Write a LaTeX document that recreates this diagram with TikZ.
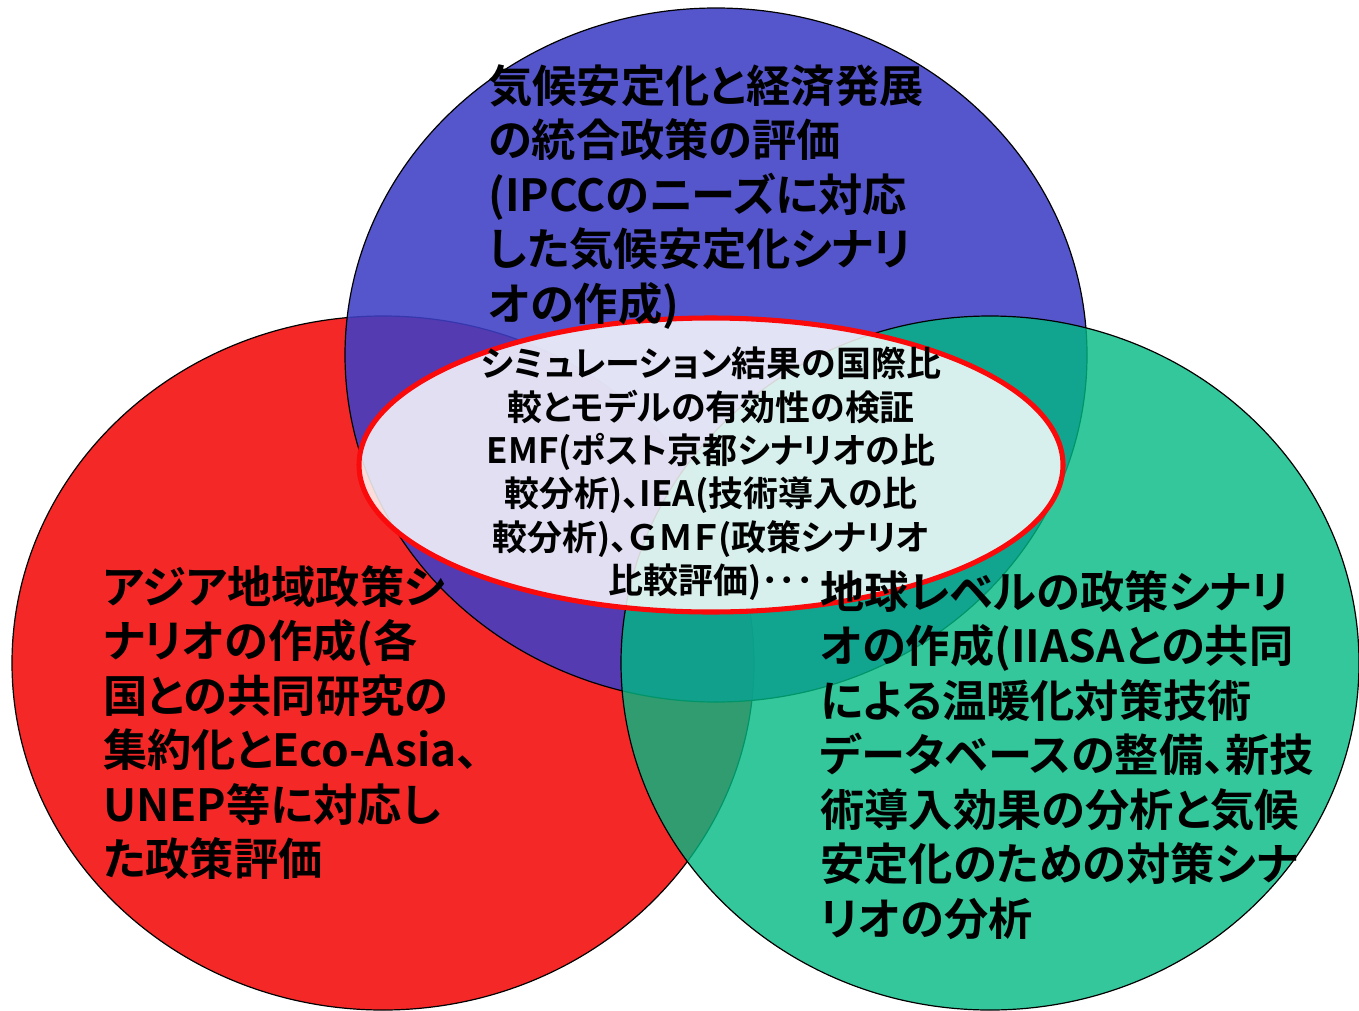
\documentclass[tikz,border=0pt]{standalone}
\usepackage{fontspec}
\setmainfont{Noto Sans CJK JP}[BoldFont={Noto Sans CJK JP Bold},RawFeature=+palt]
\definecolor{cblue}{RGB}{62,62,198}
\definecolor{cred}{RGB}{245,40,40}
\definecolor{cgreen}{RGB}{0,186,130}
\definecolor{cring}{RGB}{250,10,10}
\tikzset{
  disc/.style={draw=black,line width=0.9pt},
  bigtext/.style={inner sep=0pt,align=left,font=\bfseries\fontsize{33.2pt}{40.9pt}\selectfont},
  midtext/.style={inner sep=0pt,align=center,font=\bfseries\fontsize{26.2pt}{32.5pt}\selectfont}
}
\begin{document}
\begin{tikzpicture}[x=0.75pt,y=-0.75pt]
\useasboundingbox (0,0) rectangle (1359,1010);
\fill[white] (0,0) rectangle (1359,1010);
% discs
\draw[disc,fill=cred] (383,663) ellipse [x radius=371, y radius=347];
\draw[disc,fill=cblue,fill opacity=0.88] (716,355) ellipse [x radius=371, y radius=347];
\draw[disc,fill=cgreen,fill opacity=0.8] (990,663) ellipse [x radius=369, y radius=347];
% central ellipse
\draw[draw=cring,line width=3.8pt,fill=white,fill opacity=0.84] (711,465) ellipse [x radius=352, y radius=147];
% texts
\node[bigtext,anchor=north west] (top) at (488,64) {気候安定化と経済発展\\の統合政策の評価\\(IPCCのニーズに対応\\した気候安定化シナリ\\オの作成)};
\node[bigtext,anchor=north west] (left) at (103,565) {アジア地域政策シ\\ナリオの作成(各\\国との共同研究の\\集約化とEco-Asia、\\UNEP等に対応し\\た政策評価};
\node[bigtext,anchor=north west] (right) at (820,570) {地球レベルの政策シナリ\\オの作成(IIASAとの共同\\による温暖化対策技術\\データベースの整備、新技\\術導入効果の分析と気候\\安定化のための対策シナ\\リオの分析};
\node[midtext,anchor=north] (mid) at (711,347) {シミュレーション結果の国際比\\較とモデルの有効性の検証\\EMF(ポスト京都シナリオの比\\較分析)、IEA(技術導入の比\\較分析)、ＧＭＦ(政策シナリオ\\比較評価)･･･};
\end{tikzpicture}
\end{document}
